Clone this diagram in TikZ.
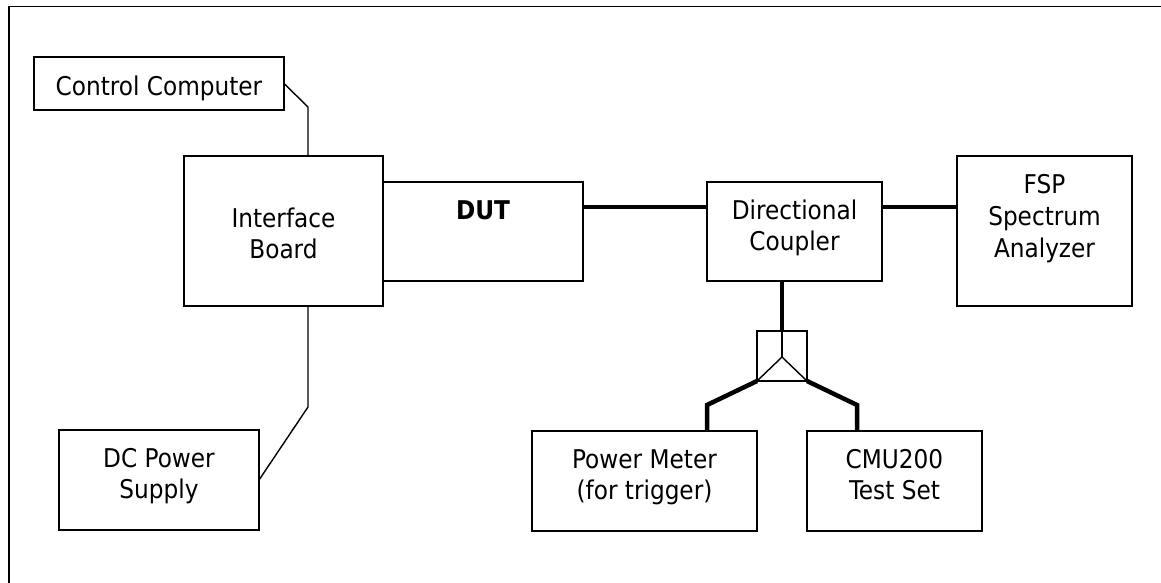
\documentclass[tikz,border=0pt]{standalone}
\usepackage{fontspec}
\setmainfont{DejaVu Sans Condensed}
\begin{document}
\begin{tikzpicture}[x=1pt,y=-1pt,
  box/.style={draw=black,line width=1.4pt,rectangle,inner sep=0pt,outer sep=0pt},
  lbl/.style={anchor=base,inner sep=0pt,font=\fontsize{25.8}{30}\selectfont},
  thin/.style={draw=black,line width=1.4pt,line join=miter},
  thick/.style={draw=black,line width=4.5pt,line join=miter},
  frame/.style={draw=black,line width=1.6pt}]
\useasboundingbox (0,0) rectangle (1161,582);
\fill[white] (0,0) rectangle (1161,582);
% outer frame (cut at right and bottom)
\draw[frame] (9,590) -- (9,6.5) -- (1170,6.5);
% boxes
\node[box,minimum width=250pt,minimum height=53pt] (cc) at (159,83.5) {};
\node[box,minimum width=199pt,minimum height=150pt] (ib) at (283.5,231) {};
\node[box,minimum width=200pt,minimum height=99pt] (dut) at (483,231.5) {};
\node[box,minimum width=175pt,minimum height=99pt] (dcp) at (794.5,231.5) {};
\node[box,minimum width=175pt,minimum height=150pt] (fsp) at (1044.5,231) {};
\node[box,minimum width=200pt,minimum height=100pt] (dc) at (159,480) {};
\node[box,minimum width=225pt,minimum height=100pt] (pm) at (644.5,481) {};
\node[box,minimum width=175pt,minimum height=100pt] (cmu) at (894.5,481) {};
\node[box,minimum width=50pt,minimum height=50pt] (spl) at (782,356) {};
% texts
\node[lbl] (cct) at (159,95) {Control Computer};
\node[lbl] (ibt1) at (283.5,227) {Interface};
\node[lbl] (ibt2) at (283.5,258) {Board};
\node[lbl,font=\fontsize{25.8}{30}\selectfont\bfseries] (dutt) at (483,219) {DUT};
\node[lbl] (dcpt1) at (794.5,219) {Directional};
\node[lbl] (dcpt2) at (794.5,250) {Coupler};
\node[lbl] (fspt1) at (1044.5,193) {FSP};
\node[lbl] (fspt2) at (1044.5,225) {Spectrum};
\node[lbl] (fspt3) at (1044.5,257) {Analyzer};
\node[lbl] (dct1) at (159,467) {DC Power};
\node[lbl] (dct2) at (159,498) {Supply};
\node[lbl] (pmt1) at (644.5,468) {Power Meter};
\node[lbl] (pmt2) at (644.5,499) {(for trigger)};
\node[lbl] (cmut1) at (894.5,468) {CMU200};
\node[lbl] (cmut2) at (894.5,499) {Test Set};
% thin connectors
\draw[thin] (cc.east) -- (308,107) -- (ib.north -| 308,0);
\draw[thin] (ib.south -| 308,0) -- (308,407) -- (dc.east);
% thick RF connectors
\draw[thick] (dut.east |- 0,207) -- (dcp.west |- 0,207);
\draw[thick] (dcp.east |- 0,207) -- (fsp.west |- 0,207);
\draw[thick] (dcp.south -| spl.north) -- (spl.north);
% splitter internals
\coordinate (apex) at (782,357);
\draw[thin] (spl.north) -- (apex);
\draw[thin] (spl.south west) -- (apex) -- (spl.south east);
\draw[thick] (spl.south west) -- (707,405) -- (pm.north -| 707,0);
\draw[thick] (spl.south east) -- (857,405) -- (cmu.north -| 857,0);
\end{tikzpicture}
\end{document}
